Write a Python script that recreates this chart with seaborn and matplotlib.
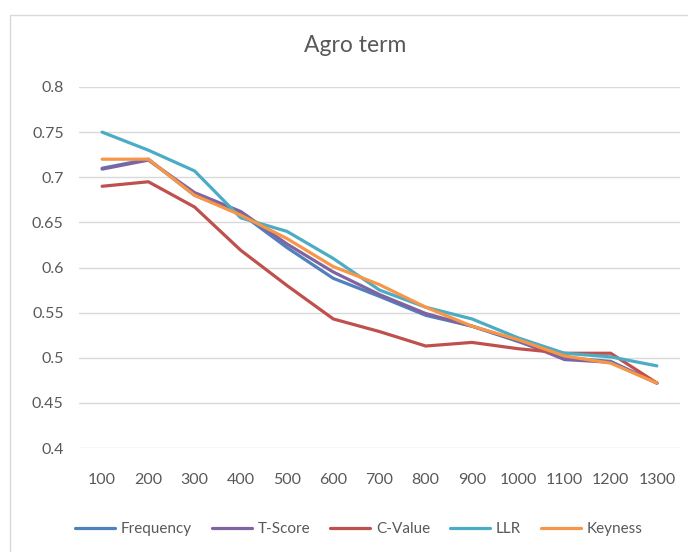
import numpy as np
import pandas as pd
import seaborn as sns
import matplotlib.pyplot as plt
from matplotlib.patches import Rectangle

# values
x_vals = [100, 200, 300, 400, 500, 600, 700, 800, 900, 1000, 1100, 1200, 1300]
frequency = [0.710, 0.720, 0.680, 0.660, 0.622, 0.588, 0.568, 0.547, 0.535, 0.518, 0.500, 0.496, 0.472]
t_score = [0.709, 0.719, 0.683, 0.662, 0.626, 0.595, 0.570, 0.549, 0.535, 0.519, 0.498, 0.495, 0.472]
c_value = [0.690, 0.695, 0.667, 0.619, 0.580, 0.543, 0.529, 0.513, 0.517, 0.510, 0.505, 0.505, 0.472]
llr = [0.750, 0.730, 0.707, 0.655, 0.640, 0.610, 0.575, 0.556, 0.543, 0.522, 0.505, 0.501, 0.491]
keyness = [0.720, 0.720, 0.680, 0.658, 0.632, 0.601, 0.581, 0.556, 0.535, 0.520, 0.502, 0.494, 0.472]

series_names = ["Frequency", "T-Score", "C-Value", "LLR", "Keyness"]
colors = ["#4F81BD", "#8064A2", "#C0504D", "#4BACC6", "#F79646"]

df = pd.DataFrame({"x": x_vals, "Frequency": frequency, "T-Score": t_score,
                   "C-Value": c_value, "LLR": llr, "Keyness": keyness})
long = df.melt(id_vars="x", var_name="series", value_name="score")

sns.set_style("white")
plt.rcParams["font.family"] = ["Lato", "DejaVu Sans"]
txt = "#595959"

fig = plt.figure(figsize=(6.88, 5.52), dpi=100)
ax = fig.add_axes([79/688, 1-448/552, 601/688, 361/552])

sns.lineplot(data=long, x="x", y="score", hue="series", hue_order=series_names,
             palette=colors, linewidth=2.3, sort=False, ax=ax)

ax.set_xlim(50, 1350)
ax.set_ylim(0.4, 0.8)
ax.set_xticks(x_vals)
ax.set_xticklabels([str(v) for v in x_vals])
yt = [0.4, 0.45, 0.5, 0.55, 0.6, 0.65, 0.7, 0.75, 0.8]
ax.set_yticks(yt)
ax.set_yticklabels(["%g" % v for v in yt])
ax.yaxis.grid(True, color="#D9D9D9", linewidth=1)
ax.set_axisbelow(True)
for s in ax.spines.values():
    s.set_visible(False)
ax.tick_params(axis="both", length=0, labelsize=11.5, colors=txt)
ax.tick_params(axis="y", pad=11)
ax.tick_params(axis="x", pad=18)
ax.set_xlabel("")
ax.set_ylabel("")

fig.text(355/688, 1-46/552, "Agro term", ha="center", va="center", fontsize=16.5, color=txt)

h, l = ax.get_legend_handles_labels()
ax.legend(h, l, loc="center", bbox_to_anchor=(359/688, 1-529/552), bbox_transform=fig.transFigure,
          ncol=5, frameon=False, fontsize=11, labelcolor=txt, handlelength=2.6,
          columnspacing=1.3, handletextpad=0.4)

fig.patches.append(Rectangle((10/688, -0.1), 1.2, 0.1+1-15/552, transform=fig.transFigure,
                             fill=False, edgecolor="#D9D9D9", linewidth=1))

fig.savefig("out.png", dpi=100)
